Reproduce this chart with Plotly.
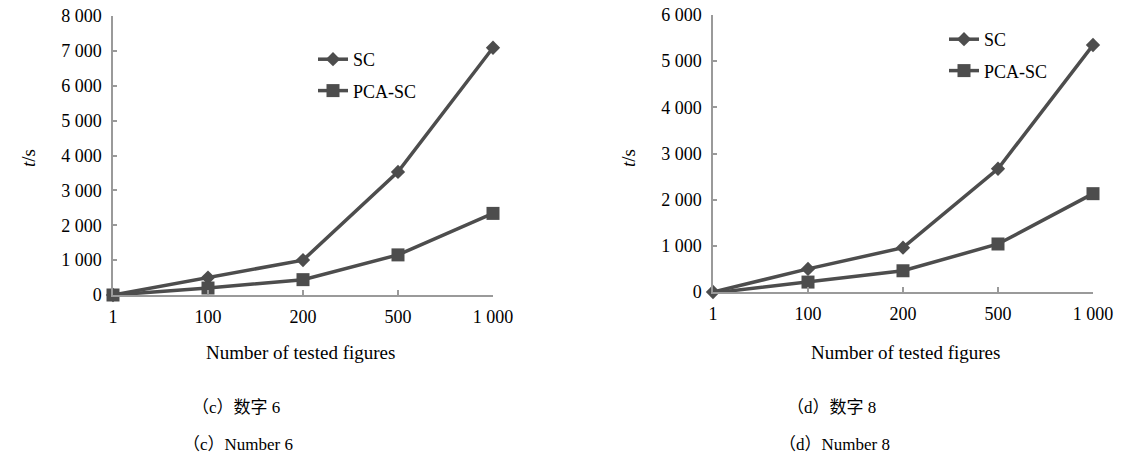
import plotly.graph_objects as go

categories = ["1", "100", "200", "500", "1 000"]

sc_6 = [0, 500, 1000, 3530, 7090]
pca_6 = [0, 200, 440, 1150, 2340]

sc_8 = [0, 500, 960, 2670, 5350]
pca_8 = [-20, 215, 460, 1040, 2130]

yticks_6 = [0, 1000, 2000, 3000, 4000, 5000, 6000, 7000, 8000]
yticklabels_6 = ["0", "1 000", "2 000", "3 000", "4 000", "5 000", "6 000", "7 000", "8 000"]
yticks_8 = [0, 1000, 2000, 3000, 4000, 5000, 6000]
yticklabels_8 = ["0", "1 000", "2 000", "3 000", "4 000", "5 000", "6 000"]

W, H = 1122, 461
LINE = "#4d4d4d"
AXIS = "#9a9a9a"
SERIF = "Liberation Serif"
CJK = "Liberation Serif, Noto Sans CJK SC"

fig = go.Figure()

def add_series(x, y, name, symbol, size, xa, ya, legend):
    fig.add_trace(go.Scatter(
        x=x, y=y, name=name, mode="lines+markers",
        line=dict(color=LINE, width=3.5),
        marker=dict(symbol=symbol, size=size, color=LINE),
        xaxis=xa, yaxis=ya, legend=legend, cliponaxis=False,
        legendgroup=name + legend,
    ))

add_series(categories, sc_6, "SC", "diamond", 11, "x", "y", "legend")
add_series(categories, pca_6, "PCA-SC", "square", 13, "x", "y", "legend")
add_series(categories, sc_8, "SC", "diamond", 11, "x2", "y2", "legend2")
add_series(categories, pca_8, "PCA-SC", "square", 13, "x2", "y2", "legend2")

def px(v):
    return v / W

def py(v):
    return 1 - v / H

xcommon = dict(
    type="category", range=[0, 4], showline=True, linecolor=AXIS, linewidth=1.5,
    ticks="inside", ticklen=5, tickcolor=AXIS, tickwidth=1.5, showgrid=False,
    zeroline=False, tickfont=dict(family=SERIF, size=18, color="black"),
    ticklabelstandoff=5, automargin=False,
)
ycommon = dict(
    showline=True, linecolor=AXIS, linewidth=1.5, ticks="inside", ticklen=4,
    tickcolor=AXIS, tickwidth=1.5, showgrid=False, zeroline=False,
    tickfont=dict(family=SERIF, size=18, color="black"), ticklabelstandoff=6,
    automargin=False,
)

fig.update_layout(
    width=W, height=H, margin=dict(l=0, r=0, t=0, b=0, autoexpand=False),
    font=dict(family=SERIF, color="black"),
    paper_bgcolor="white", plot_bgcolor="white",
    xaxis=dict(domain=[px(113), px(493)], anchor="y", **xcommon),
    yaxis=dict(domain=[py(295), py(16)], anchor="x", range=[0, 8000],
               tickvals=yticks_6, ticktext=yticklabels_6, **ycommon),
    xaxis2=dict(domain=[px(713), px(1093)], anchor="y2", **xcommon),
    yaxis2=dict(domain=[py(292), py(15)], anchor="x2", range=[0, 6000],
                tickvals=yticks_8, ticktext=yticklabels_8, **ycommon),
    legend=dict(x=px(313), y=py(41), xanchor="left", yanchor="top",
                bgcolor="rgba(0,0,0,0)", font=dict(family=SERIF, size=18, color="black"),
                tracegroupgap=5, itemwidth=30),
    legend2=dict(x=px(944), y=py(21), xanchor="left", yanchor="top",
                 bgcolor="rgba(0,0,0,0)", font=dict(family=SERIF, size=18, color="black"),
                 tracegroupgap=5, itemwidth=30),
    showlegend=True,
)

annos = [
    dict(x=px(28), y=py(158), text="<i>t</i>/s", textangle=-90),
    dict(x=px(628), y=py(158), text="<i>t</i>/s", textangle=-90),
    dict(x=px(300), y=py(352), text="Number of tested figures"),
    dict(x=px(905), y=py(352), text="Number of tested figures"),
]
for a in annos:
    fig.add_annotation(xref="paper", yref="paper", showarrow=False,
                       xanchor="center", yanchor="middle",
                       font=dict(family=SERIF, size=19, color="black"), **a)

captions = [
    (236, 407, "（c）数字 6"),
    (238, 444, "（c）Number 6"),
    (831, 407, "（d）数字 8"),
    (834, 444, "（d）Number 8"),
]
for cx, cy, t in captions:
    fig.add_annotation(xref="paper", yref="paper", showarrow=False,
                       xanchor="center", yanchor="middle", x=px(cx), y=py(cy),
                       text=t, font=dict(family=CJK, size=17, color="black"))

fig.write_html("out.html", config={"displayModeBar": False},
               post_script="document.body.style.margin='0';")
